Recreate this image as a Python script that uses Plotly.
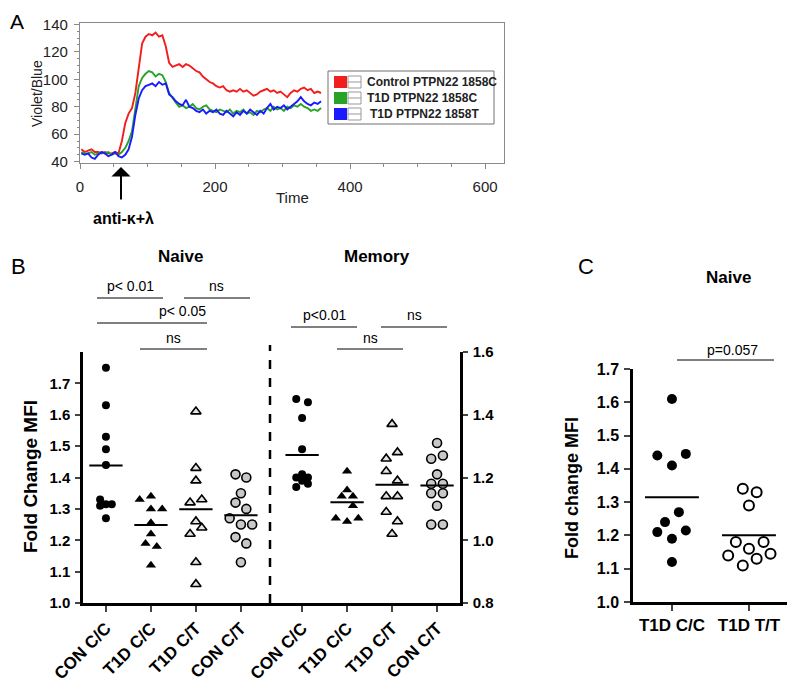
import numpy as np
import plotly.graph_objects as go

# the page body has an 8px margin, so the figure fills the rest of the 795x683 window
OFF = 8
W, H = 795 - OFF, 683 - OFF
FONT = "Arial, Liberation Sans, sans-serif"

# ---------------- Panel A data: Violet/Blue ratio over time
time = list(range(2, 358, 5))
red = [49, 47, 48, 49, 47, 47, 46, 47, 46, 46, 47, 46,
       55, 68, 75, 79, 90, 108, 126, 131, 133, 132, 134, 131,
       132, 124, 112, 109, 110, 111, 109, 111, 110, 108, 106, 105,
       102, 100, 98, 97, 95, 94, 95, 92, 91, 92, 91, 93,
       91, 92, 90, 88, 89, 91, 92, 93, 91, 92, 90, 91,
       89, 87, 90, 92, 91, 93, 94, 92, 93, 90, 91, 90]
green = [47, 46, 46, 47, 45, 46, 47, 46, 47, 45, 46, 45,
         47, 50, 55, 62, 80, 95, 101, 104, 106, 105, 102, 104,
         103, 98, 90, 86, 83, 80, 81, 79, 80, 82, 79, 78,
         80, 81, 78, 77, 76, 78, 77, 76, 78, 75, 77, 76,
         78, 75, 76, 74, 77, 76, 78, 79, 77, 80, 78, 79,
         77, 80, 79, 81, 80, 82, 80, 79, 77, 78, 77, 79]
blue = [46, 45, 46, 43, 42, 45, 47, 46, 44, 45, 47, 44,
        43, 45, 49, 58, 74, 86, 92, 95, 96, 97, 95, 98,
        96, 97, 89, 87, 84, 82, 81, 85, 80, 79, 77, 76,
        78, 75, 77, 76, 78, 75, 74, 77, 75, 73, 76, 74,
        77, 75, 78, 76, 74, 77, 75, 79, 82, 78, 80, 79,
        81, 78, 80, 82, 84, 87, 84, 82, 81, 83, 82, 84]
legend_labels = ["Control PTPN22 1858C", "T1D PTPN22 1858C", "T1D PTPN22 1858T"]
line_colors = ["#f21d1d", "#27a327", "#1a1aff"]

# ---------------- Panel B data: fold change MFI
b_categories = ["CON C/C", "T1D C/C", "T1D C/T", "CON C/T"]
naive_con_cc = [1.75, 1.63, 1.53, 1.49, 1.44, 1.33, 1.315, 1.31, 1.315, 1.27]
naive_t1d_cc = [1.33, 1.34, 1.30, 1.30, 1.256, 1.22, 1.19, 1.18, 1.12]
naive_t1d_ct = [1.61, 1.43, 1.39, 1.32, 1.33, 1.26, 1.24, 1.22, 1.13, 1.06]
naive_con_ct = [1.41, 1.40, 1.35, 1.32, 1.30, 1.27, 1.25, 1.25, 1.21, 1.19, 1.13]
memory_con_cc = [1.45, 1.44, 1.39, 1.29, 1.21, 1.20, 1.20, 1.19, 1.17, 1.18]
memory_t1d_cc = [1.22, 1.16, 1.14, 1.14, 1.11, 1.07, 1.06, 1.07]
memory_t1d_ct = [1.37, 1.26, 1.28, 1.22, 1.19, 1.14, 1.14, 1.09, 1.06, 1.02]
memory_con_ct = [1.31, 1.26, 1.27, 1.21, 1.18, 1.18, 1.15, 1.15, 1.11, 1.05, 1.05]

# horizontal scatter offsets (category units)
naive_con_cc_dx = [0, 0, 0, 0, 0, -0.13, 0.13, -0.13, 0, 0]
naive_t1d_cc_dx = [-0.25, 0, 0, 0.25, 0, 0, -0.12, 0.13, 0]
naive_t1d_ct_dx = [0, 0, 0, -0.13, 0.13, 0, 0.13, -0.13, 0, 0]
naive_con_ct_dx = [-0.12, 0.12, 0, -0.12, 0.12, -0.25, 0, 0.25, -0.12, 0.12, 0]
memory_con_cc_dx = [-0.13, 0.13, 0, 0, 0, -0.13, 0.13, 0, -0.13, 0.13]
memory_t1d_cc_dx = [0, 0, -0.12, 0.13, 0.13, -0.25, 0, 0.25]
memory_t1d_ct_dx = [0, -0.13, 0.12, -0.13, 0.12, -0.13, 0.12, -0.13, 0.12, 0]
memory_con_ct_dx = [0, -0.13, 0.13, 0, -0.13, 0.13, -0.13, 0.13, 0, -0.13, 0.13]

# ---------------- Panel C data
c_categories = ["T1D C/C", "T1D T/T"]
c_t1d_cc = [1.61, 1.44, 1.445, 1.41, 1.27, 1.24, 1.21, 1.215, 1.19, 1.12]
c_t1d_tt = [1.34, 1.33, 1.29, 1.18, 1.18, 1.16, 1.14, 1.145, 1.13, 1.11]
c_t1d_cc_dx = [0, -0.19, 0.18, 0, 0.09, -0.09, -0.19, 0.18, 0, 0]
c_t1d_tt_dx = [-0.08, 0.1, 0, -0.17, 0.19, 0, -0.27, 0.28, 0.1, -0.08]


def px(x):
    return (x - OFF) / W


def py(y):
    return 1 - (y - OFF) / H


fig = go.Figure()

# Panel A lines
for vals, name, col in zip([red, green, blue], legend_labels, line_colors):
    fig.add_trace(go.Scatter(x=time, y=vals, mode="lines", name=name,
                             line=dict(color=col, width=1.9), xaxis="x", yaxis="y",
                             showlegend=False))

# Panel B dot plots
naive_pos = [1, 2, 3, 4]
memory_pos = [5.36, 6.36, 7.36, 8.36]
styles = [
    dict(symbol="circle", color="black", size=8),
    dict(symbol="triangle-up", color="black", size=9),
    dict(symbol="triangle-up", color="#e4e4e4", size=9, line=dict(color="black", width=1.6)),
    dict(symbol="circle", color="#c8c8c8", size=9, line=dict(color="black", width=1.6)),
]
naive_groups = [(naive_con_cc, naive_con_cc_dx), (naive_t1d_cc, naive_t1d_cc_dx),
                (naive_t1d_ct, naive_t1d_ct_dx), (naive_con_ct, naive_con_ct_dx)]
memory_groups = [(memory_con_cc, memory_con_cc_dx), (memory_t1d_cc, memory_t1d_cc_dx),
                 (memory_t1d_ct, memory_t1d_ct_dx), (memory_con_ct, memory_con_ct_dx)]

for positions, groups, yax in [(naive_pos, naive_groups, "y2"), (memory_pos, memory_groups, "y3")]:
    for pos, (vals, dx), st in zip(positions, groups, styles):
        fig.add_trace(go.Scatter(x=[pos + d for d in dx], y=vals, mode="markers",
                                 marker=st, xaxis="x2", yaxis=yax, showlegend=False))
        m = float(np.mean(vals))
        fig.add_trace(go.Scatter(x=[pos - 0.37, pos + 0.37], y=[m, m], mode="lines",
                                 line=dict(color="black", width=2), xaxis="x2", yaxis=yax,
                                 showlegend=False))

# Panel C
c_styles = [dict(symbol="circle", color="black", size=10),
            dict(symbol="circle", color="white", size=10, line=dict(color="black", width=2))]
for i, (vals, dx, st) in enumerate([(c_t1d_cc, c_t1d_cc_dx, c_styles[0]),
                                    (c_t1d_tt, c_t1d_tt_dx, c_styles[1])]):
    fig.add_trace(go.Scatter(x=[i + d for d in dx], y=vals, mode="markers", marker=st,
                             xaxis="x3", yaxis="y4", showlegend=False))
    m = float(np.mean(vals))
    fig.add_trace(go.Scatter(x=[i - 0.35, i + 0.35], y=[m, m], mode="lines",
                             line=dict(color="black", width=2), xaxis="x3", yaxis="y4",
                             showlegend=False))

grey = "#8a8a8a"
tickA = dict(family=FONT, size=15, color="#222")
boldB = dict(family=FONT, size=15, color="black", weight="bold")

fig.update_layout(
    width=W, height=H, template="none", showlegend=False,
    margin=dict(l=0, r=0, t=0, b=0),
    paper_bgcolor="white", plot_bgcolor="rgba(0,0,0,0)",
    xaxis=dict(domain=[px(80), px(504)], range=[0, 628], anchor="y",
               showline=True, linecolor=grey, linewidth=1.2, mirror=True,
               showgrid=False, zeroline=False, tickvals=[0, 200, 400, 600],
               ticks="outside", ticklen=5, tickcolor=grey, tickfont=tickA,
               ticklabelstandoff=5, automargin=False,
               minor=dict(dtick=50, ticks="outside", ticklen=3, tickcolor=grey)),
    yaxis=dict(domain=[py(163), py(23)], range=[39, 141], anchor="x",
               showline=True, linecolor=grey, linewidth=1.2, mirror=True,
               showgrid=False, zeroline=False, tickvals=[40, 60, 80, 100, 120, 140],
               ticks="outside", ticklen=5, tickcolor=grey, tickfont=tickA,
               ticklabelstandoff=3, automargin=False,
               minor=dict(dtick=5, ticks="outside", ticklen=2, tickcolor=grey)),
    xaxis2=dict(domain=[px(83), px(460)], range=[0.49, 8.87], anchor="y2",
                showline=True, linecolor="black", linewidth=2.5, showgrid=False,
                zeroline=False, tickvals=naive_pos + memory_pos,
                ticktext=b_categories + b_categories, tickangle=-45,
                ticks="outside", ticklen=6, tickwidth=2,
                tickfont=dict(family=FONT, size=17, color="black", weight="bold"),
                automargin=False),
    yaxis2=dict(domain=[py(603), py(352)], range=[1.0, 1.8], anchor="x2",
                showline=True, linecolor="black", linewidth=2.5, showgrid=False,
                zeroline=False, tickvals=[1.0, 1.1, 1.2, 1.3, 1.4, 1.5, 1.6, 1.7],
                tickformat=".1f", ticks="outside", ticklen=5, tickwidth=2,
                tickfont=boldB, ticklabelstandoff=2, automargin=False),
    yaxis3=dict(range=[0.8, 1.6], overlaying="y2", side="right", anchor="x2",
                showline=True, linecolor="black", linewidth=2.5, showgrid=False,
                zeroline=False, tickvals=[0.8, 1.0, 1.2, 1.4, 1.6], tickformat=".1f",
                ticks="outside", ticklen=5, tickwidth=2, tickfont=boldB,
                ticklabelstandoff=2, automargin=False),
    xaxis3=dict(domain=[px(633), px(789)], range=[-0.506, 1.52], anchor="y4",
                showline=True, linecolor="black", linewidth=2.5, showgrid=False,
                zeroline=False, tickvals=[0, 1], ticktext=c_categories,
                ticks="outside", ticklen=6, tickwidth=2,
                tickfont=dict(family=FONT, size=17, color="black", weight="bold"),
                automargin=False),
    yaxis4=dict(domain=[py(602), py(369)], range=[1.0, 1.7], anchor="x3",
                showline=True, linecolor="black", linewidth=2.5, showgrid=False,
                zeroline=False, tickvals=[1.0, 1.1, 1.2, 1.3, 1.4, 1.5, 1.6, 1.7],
                tickformat=".1f", ticks="outside", ticklen=6, tickwidth=2,
                tickfont=dict(family=FONT, size=16, color="black", weight="bold"),
                ticklabelstandoff=2, automargin=False),
)

shapes = []
annotations = []


def text(x, y, s, size=13, bold=False, angle=0, color="black"):
    annotations.append(dict(x=px(x), y=py(y), xref="paper", yref="paper", text=s,
                            showarrow=False, textangle=angle, xanchor="center",
                            yanchor="middle",
                            font=dict(family=FONT, size=size, color=color,
                                      weight="bold" if bold else "normal")))


def hline(x0, x1, y, width=1, color="black"):
    shapes.append(dict(type="line", xref="paper", yref="paper", x0=px(x0), x1=px(x1),
                       y0=py(y), y1=py(y), line=dict(color=color, width=width)))


# panel letters
text(17, 21, "A", size=21)
text(18, 266, "B", size=22)
text(586, 266, "C", size=22)

# panel A titles, arrow, legend
text(37, 93, "Violet/Blue", size=14, angle=-90, color="#222")
text(292, 198, "Time", size=15, color="#222")
annotations.append(dict(x=px(121), y=py(167), xref="paper", yref="paper", ax=0, ay=34,
                        text="", showarrow=True, arrowhead=1, arrowsize=1.6,
                        arrowwidth=2, arrowcolor="black"))
text(123, 219, "anti-κ+λ", size=16, bold=True)

shapes.append(dict(type="rect", xref="paper", yref="paper", x0=px(328), x1=px(494),
                   y0=py(124), y1=py(71), line=dict(color="#707070", width=1),
                   fillcolor="white"))
for i, (lab, col) in enumerate(zip(legend_labels, line_colors)):
    yc = 82 + i * 16
    shapes.append(dict(type="rect", xref="paper", yref="paper", x0=px(334), x1=px(347),
                       y0=py(yc + 6), y1=py(yc - 6), line=dict(width=0), fillcolor=col))
    shapes.append(dict(type="rect", xref="paper", yref="paper", x0=px(348), x1=px(361),
                       y0=py(yc + 6), y1=py(yc - 6), line=dict(color="#999", width=1),
                       fillcolor="white"))
    hline(348, 361, yc, width=1, color="#999")
    annotations.append(dict(x=px(365 + (3 if i == 2 else 0)), y=py(yc), xref="paper",
                            yref="paper", text=lab, showarrow=False, xanchor="left",
                            yanchor="middle",
                            font=dict(family=FONT, size=12, color="#222", weight="bold")))

# panel B titles and brackets
text(180, 257, "Naive", size=17, bold=True)
text(377, 257, "Memory", size=17, bold=True)
text(30, 477, "Fold Change MFI", size=19, bold=True, angle=-90)
brackets_b = [("p< 0.01", 97, 163, 298, 286), ("ns", 184, 250, 298, 286),
              ("p< 0.05", 97, 207, 323, 311), ("ns", 140, 207, 349, 338),
              ("p<0.01", 291, 357, 327, 315), ("ns", 381, 447, 327, 315),
              ("ns", 337, 403, 349, 338)]
for lab, x0, x1, yl, yt in brackets_b:
    hline(x0, x1, yl)
    tx = {"p< 0.05": 182}.get(lab, (x0 + x1) / 2)
    text(tx, yt, lab, size=14)

# dashed divider
shapes.append(dict(type="line", xref="paper", yref="paper", x0=px(270), x1=px(270),
                   y0=py(603), y1=py(345), line=dict(color="black", width=2.5, dash="dash")))

# panel C titles and bracket
text(728, 277, "Naive", size=17, bold=True)
text(572, 488, "Fold change MFI", size=18, bold=True, angle=-90)
hline(677, 774, 360)
text(732, 350, "p=0.057", size=14)

fig.update_layout(shapes=shapes, annotations=annotations)

fig.write_html("out.html")
